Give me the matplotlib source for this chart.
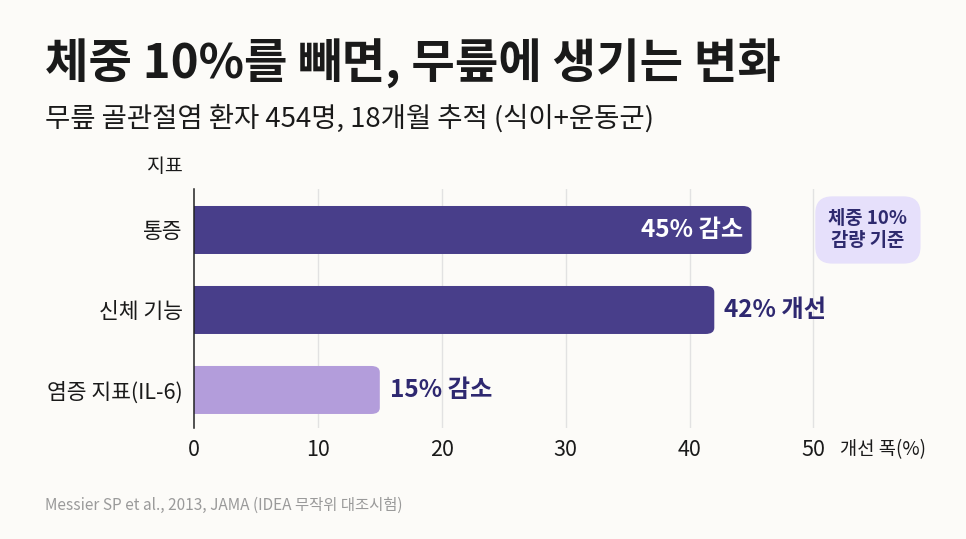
import matplotlib.pyplot as plt
from matplotlib.patches import FancyBboxPatch

plt.rcParams['font.family'] = ['Noto Sans CJK KR', 'DejaVu Sans']

# data
categories = ["통증", "신체 기능", "염증 지표(IL-6)"]
values = [45, 42, 15]
value_labels = ["45% 감소", "42% 개선", "15% 감소"]
xticks = [0, 10, 20, 30, 40, 50]

bg = "#fcfbf8"
dark = "#483e8a"
light = "#b39ddb"
label_col = "#2e2870"
txt = "#1a1a1a"

fig = plt.figure(figsize=(9.66, 5.39), dpi=100, facecolor=bg)
ax = fig.add_axes([0.2008, 0.206, 0.731, 0.443], facecolor=bg)

colors = [dark, dark, light]
bars = ax.barh(range(len(categories)), values, height=0.6, color=colors)

# rounded right ends: swap each bar for a fancy box
for b, c in zip(bars, colors):
    b.set_visible(False)
    x0, y0, w, h = b.get_x(), b.get_y(), b.get_width(), b.get_height()
    p = FancyBboxPatch((x0 - 2, y0), w + 2, h,
                       boxstyle="round,pad=0,rounding_size=0.7",
                       mutation_aspect=0.11, facecolor=c, edgecolor="none",
                       zorder=2)
    ax.add_patch(p)

ax.set_xlim(0, 57)
ax.set_ylim(len(categories) - 0.525, -0.51)

ax.set_yticks(range(len(categories)))
ax.set_yticklabels(categories, fontsize=15.5, color=txt)
ax.set_xticks(xticks)
ax.set_xticklabels([str(t) for t in xticks], fontsize=15.5, color=txt)
ax.tick_params(axis="both", length=0)
ax.tick_params(axis="x", pad=8)
ax.tick_params(axis="y", pad=8)

for s in ["top", "right", "bottom"]:
    ax.spines[s].set_visible(False)
ax.spines["left"].set_color("#222222")
ax.spines["left"].set_linewidth(1.1)
ax.spines["left"].set_zorder(4)

for t in xticks[1:]:
    ax.axvline(t, color="#e2e2e2", lw=1, zorder=0)

# value labels
for i, (v, lab) in enumerate(zip(values, value_labels)):
    if i == 0:
        ax.text(v - 0.7, i, lab, ha="right", va="center", color="white",
                fontsize=17.5, fontweight="bold", zorder=5)
    else:
        ax.text(v + 0.8, i, lab, ha="left", va="center", color=label_col,
                fontsize=17.5, fontweight="bold", zorder=5)

# note box
ax.text(54.4, 0, "체중 10%\n감량 기준", ha="center", va="center",
        fontsize=13.5, fontweight="bold", color="#2e2a6e", linespacing=1.2,
        clip_on=False, zorder=5,
        bbox=dict(boxstyle="round,pad=0.7,rounding_size=0.9",
                  facecolor="#e6e0fb", edgecolor="none"))

fig.text(840 / 966, 1 - 450 / 539, "개선 폭(%)", ha="left", va="center",
         fontsize=13.5, color=txt)

fig.text(183 / 966, 1 - 167 / 539, "지표", ha="right", va="center",
         fontsize=14, color=txt)

fig.text(45 / 966, 1 - 64 / 539, "체중 10%를 빼면, 무릎에 생기는 변화",
         ha="left", va="center", fontsize=34, fontweight="heavy", color=txt)
fig.text(45 / 966, 1 - 119 / 539, "무릎 골관절염 환자 454명, 18개월 추적 (식이+운동군)",
         ha="left", va="center", fontsize=19.8, color=txt)
fig.text(45 / 966, 1 - 505 / 539, "Messier SP et al., 2013, JAMA (IDEA 무작위 대조시험)",
         ha="left", va="center", fontsize=11.1, color="#9a9a9a")

fig.savefig("out.png", dpi=100, facecolor=bg)
